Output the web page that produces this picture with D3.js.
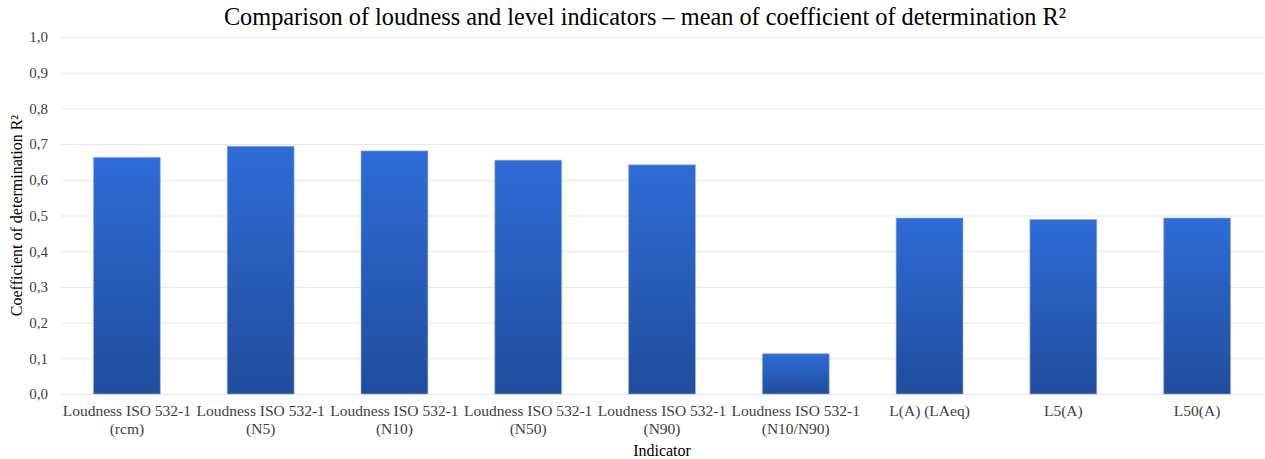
<!DOCTYPE html>
<html>
<head>
<meta charset="utf-8">
<script src="https://cdn.jsdelivr.net/npm/d3@7/dist/d3.min.js"></script>
<style>
  html, body { margin: 0; padding: 0; background: #ffffff; }
  svg { display: block; font-family: "Liberation Serif", "Times New Roman", serif; }
  svg text { font-family: "Liberation Serif", "Times New Roman", serif; }
</style>
</head>
<body>
<svg id="chart" width="1265" height="459"></svg>
<script>
// Indicator categories (each label may wrap onto two lines)
const categories = [
  ["Loudness ISO 532-1", "(rcm)"],
  ["Loudness ISO 532-1", "(N5)"],
  ["Loudness ISO 532-1", "(N10)"],
  ["Loudness ISO 532-1", "(N50)"],
  ["Loudness ISO 532-1", "(N90)"],
  ["Loudness ISO 532-1", "(N10/N90)"],
  ["L(A) (LAeq)"],
  ["L5(A)"],
  ["L50(A)"]
];
// Mean coefficient of determination R² per indicator
const meanR2 = [0.663, 0.694, 0.681, 0.655, 0.642, 0.113, 0.493, 0.489, 0.493];
const yTicks = [0, 0.1, 0.2, 0.3, 0.4, 0.5, 0.6, 0.7, 0.8, 0.9, 1.0];

const titleText = "Comparison of loudness and level indicators \u2013 mean of coefficient of determination R\u00B2";
const yTitle = "Coefficient of determination R\u00B2";
const xTitle = "Indicator";

const FONT = "Liberation Serif, Times New Roman, serif";

const svg = d3.select("#chart");
const width = 1265, height = 459;
const margin = { top: 37, right: 1, bottom: 65, left: 60 };
const innerW = width - margin.left - margin.right;
const innerH = height - margin.top - margin.bottom;

const keys = categories.map(c => c.join(" "));
const x = d3.scaleBand().domain(keys).range([0, innerW]).paddingInner(0.5).paddingOuter(0.25);
const y = d3.scaleLinear().domain([0, 1]).range([innerH, 0]);

// Vertical gradient used to fill each bar
const defs = svg.append("defs");
const grad = defs.append("linearGradient")
  .attr("id", "barFill").attr("x1", 0).attr("y1", 0).attr("x2", 0).attr("y2", 1);
grad.append("stop").attr("offset", "0%").attr("stop-color", "#2f6cd7");
grad.append("stop").attr("offset", "100%").attr("stop-color", "#214d9d");

const g = svg.append("g").attr("transform", `translate(${margin.left},${margin.top})`);

// Horizontal gridlines and value labels
const yAxis = d3.axisLeft(y).tickValues(yTicks).tickSize(-innerW)
  .tickFormat(d => d3.format(".1f")(d).replace(".", ","));
const yg = g.append("g").call(yAxis).attr("font-family", FONT).attr("font-size", 15);
yg.select(".domain").remove();
yg.selectAll(".tick line").attr("stroke", "#e6e6e6").attr("stroke-width", 1);
yg.selectAll(".tick text")
  .attr("x", -12)
  .attr("fill", "#404040");

// Bars
g.selectAll("rect.bar")
  .data(meanR2)
  .join("rect")
  .attr("class", "bar")
  .attr("x", (d, i) => x(keys[i]))
  .attr("y", d => y(d))
  .attr("width", x.bandwidth())
  .attr("height", d => y(0) - y(d))
  .attr("fill", "url(#barFill)")
  .attr("stroke", "#9bb6e6")
  .attr("stroke-opacity", 0.6)
  .attr("stroke-width", 1);

// Category labels under the bars
const xAxis = d3.axisBottom(x).tickSize(0).tickFormat("");
const xg = g.append("g").attr("transform", `translate(0,${innerH})`).call(xAxis)
  .attr("font-family", FONT).attr("font-size", 15.5);
xg.select(".domain").remove();
xg.selectAll(".tick").each(function(d, i) {
  const t = d3.select(this).append("text")
    .attr("fill", "#404040")
    .attr("text-anchor", "middle");
  categories[i].forEach((line, j) => {
    t.append("tspan").attr("x", 0).attr("y", 22 + j * 18).text(line);
  });
});

// Chart title
svg.append("text")
  .attr("x", 645).attr("y", 25)
  .attr("text-anchor", "middle")
  .attr("fill", "#000000")
  .style("font-size", "24.3px")
  .text(titleText);

// Axis titles
svg.append("text")
  .attr("transform", `translate(22,${margin.top + innerH / 2}) rotate(-90)`)
  .attr("text-anchor", "middle")
  .attr("fill", "#000000")
  .style("font-size", "16px")
  .text(yTitle);

svg.append("text")
  .attr("x", margin.left + innerW / 2).attr("y", 456)
  .attr("text-anchor", "middle")
  .attr("fill", "#000000")
  .style("font-size", "16px")
  .text(xTitle);
</script>
</body>
</html>
